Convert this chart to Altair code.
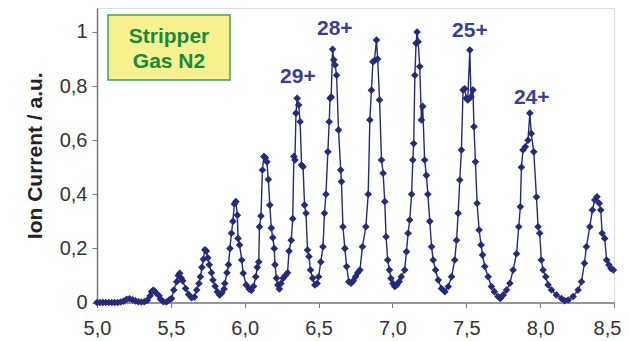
import altair as alt
import pandas as pd

# Measured spectrum (x: field / a.u., y: ion current / a.u.)
xs = [5.00, 5.02, 5.04, 5.06, 5.08, 5.10, 5.12, 5.14, 5.16, 5.18, 5.20, 5.22, 5.24, 5.26, 5.28, 5.30,
      5.32, 5.34, 5.36, 5.37, 5.38, 5.39, 5.40, 5.42, 5.43, 5.45, 5.47, 5.49, 5.505,
      5.52, 5.54, 5.55, 5.56, 5.57, 5.58, 5.60, 5.62, 5.64, 5.66, 5.675, 5.69, 5.70, 5.71, 5.72, 5.73,
      5.74, 5.75, 5.76, 5.775, 5.785, 5.80, 5.815, 5.83, 5.845, 5.86,
      5.865, 5.88, 5.89, 5.90, 5.91, 5.92, 5.93, 5.94, 5.95, 5.955, 5.965, 5.98, 5.99, 6.01, 6.03, 6.045,
      6.06, 6.075, 6.085, 6.095, 6.10, 6.11, 6.12, 6.13, 6.14, 6.15, 6.16, 6.17, 6.18, 6.19, 6.20, 6.205,
      6.215, 6.225, 6.235, 6.245, 6.26, 6.275, 6.29, 6.30, 6.315, 6.325, 6.333, 6.34, 6.347, 6.355, 6.365,
      6.375, 6.385, 6.395, 6.405, 6.415, 6.425, 6.435, 6.445, 6.46, 6.475, 6.49, 6.50, 6.515, 6.53, 6.54,
      6.55, 6.563, 6.572, 6.578, 6.585, 6.595, 6.603, 6.612, 6.622, 6.635, 6.65, 6.655, 6.665, 6.678, 6.69,
      6.705, 6.72, 6.735, 6.75, 6.765, 6.78, 6.797, 6.82, 6.836, 6.847, 6.858, 6.868, 6.878, 6.892, 6.90,
      6.913, 6.926, 6.937, 6.948, 6.957, 6.968, 6.98, 6.99, 7.003, 7.016, 7.03, 7.045, 7.06, 7.083, 7.095,
      7.106, 7.117, 7.13, 7.138, 7.144, 7.152, 7.16, 7.167, 7.174, 7.185, 7.196, 7.205, 7.218, 7.23, 7.24,
      7.253, 7.265, 7.276, 7.292, 7.31, 7.332, 7.355, 7.378, 7.40, 7.422, 7.434, 7.445, 7.456, 7.467, 7.478,
      7.49, 7.50, 7.51, 7.524, 7.532, 7.545, 7.552, 7.562, 7.573, 7.587, 7.60, 7.61, 7.625, 7.648, 7.67,
      7.69, 7.715, 7.73, 7.75, 7.772, 7.795, 7.817, 7.84, 7.855, 7.866, 7.873, 7.884, 7.90, 7.918, 7.93,
      7.94, 7.957, 7.975, 7.986, 7.997, 8.008, 8.02, 8.038, 8.054, 8.077, 8.11, 8.144, 8.166, 8.19, 8.223,
      8.257, 8.28, 8.30, 8.313, 8.336, 8.354, 8.37, 8.385, 8.40, 8.41, 8.42, 8.437, 8.45, 8.466, 8.48, 8.496]

ys = [0.0, 0.0, 0.0, 0.0, 0.0, 0.0, 0.0, 0.0, 0.002, 0.005, 0.012, 0.014, 0.010, 0.006, 0.003, 0.002,
      0.003, 0.008, 0.025, 0.040, 0.045, 0.042, 0.035, 0.025, 0.012, 0.003, 0.002, 0.010, 0.015,
      0.046, 0.077, 0.100, 0.108, 0.090, 0.080, 0.052, 0.030, 0.018, 0.020, 0.046, 0.070, 0.095, 0.130, 0.160, 0.195,
      0.190, 0.165, 0.140, 0.110, 0.083, 0.060, 0.040, 0.028, 0.035, 0.050,
      0.070, 0.110, 0.140, 0.200, 0.256, 0.300, 0.364, 0.373, 0.323, 0.237, 0.213, 0.157, 0.108, 0.065, 0.050, 0.045,
      0.060, 0.095, 0.130, 0.150, 0.280, 0.320, 0.490, 0.540, 0.535, 0.520, 0.455, 0.360, 0.275, 0.240, 0.200, 0.140,
      0.090, 0.065, 0.050, 0.070, 0.090, 0.100, 0.110, 0.190, 0.230, 0.310, 0.540, 0.527, 0.700, 0.755, 0.730,
      0.668, 0.508, 0.502, 0.360, 0.330, 0.194, 0.170, 0.120, 0.090, 0.065, 0.070, 0.095, 0.150, 0.206, 0.330,
      0.400, 0.557, 0.668, 0.755, 0.760, 0.936, 0.897, 0.878, 0.840, 0.638, 0.490, 0.447, 0.280, 0.200, 0.133,
      0.077, 0.071, 0.080, 0.095, 0.110, 0.120, 0.206, 0.280, 0.400, 0.675, 0.785, 0.890, 0.894, 0.970, 0.900,
      0.749, 0.527, 0.478, 0.373, 0.243, 0.157, 0.120, 0.089, 0.070, 0.059, 0.065, 0.077, 0.095, 0.120, 0.188,
      0.256, 0.305, 0.400, 0.527, 0.588, 0.840, 0.958, 1.000, 0.964, 0.872, 0.675, 0.725, 0.527, 0.470, 0.400,
      0.300, 0.206, 0.157, 0.120, 0.083, 0.052, 0.040, 0.059, 0.095, 0.157, 0.230, 0.330, 0.453, 0.564, 0.786,
      0.790, 0.755, 0.749, 0.933, 0.760, 0.786, 0.650, 0.520, 0.367, 0.268, 0.213, 0.176, 0.133, 0.095, 0.059,
      0.040, 0.022, 0.015, 0.028, 0.046, 0.071, 0.120, 0.180, 0.280, 0.354, 0.500, 0.564, 0.576, 0.600, 0.700,
      0.625, 0.557, 0.390, 0.280, 0.256, 0.157, 0.120, 0.095, 0.065, 0.046, 0.028, 0.015, 0.007, 0.009, 0.022,
      0.046, 0.077, 0.145, 0.206, 0.280, 0.342, 0.379, 0.391, 0.367, 0.342, 0.256, 0.237, 0.157, 0.139, 0.126, 0.120]

peak_labels = ["29+", "28+", "25+", "24+"]
peak_x = [6.36, 6.61, 7.524, 7.943]
peak_y = [0.811, 0.989, 0.981, 0.734]

box_lines = ["Stripper", "Gas N2"]

x_ticks = [5.0, 5.5, 6.0, 6.5, 7.0, 7.5, 8.0, 8.5]
y_ticks = [0, 0.2, 0.4, 0.6, 0.8, 1.0]

df = pd.DataFrame({"x": xs, "y": ys})
ann = pd.DataFrame({"label": peak_labels, "x": peak_x, "y": peak_y})

FONT = "Liberation Sans"
LINE = "#262a78"

xscale = alt.Scale(domain=[5.0, 8.5], nice=False, zero=False)
yscale = alt.Scale(domain=[0, 1.0887], nice=False)

xaxis = alt.Axis(values=x_ticks, labelExpr="replace(format(datum.value, '.1f'), '.', ',')",
                 title=None, grid=False, tickSize=5, labelPadding=11, labelFontSize=20,
                 labelFlush=False, labelOverlap=False,
                 labelOffset={"condition": {"test": "datum.value >= 8.49", "value": -7}, "value": 0},
                 labelFont=FONT, labelColor="#333333", domainColor="#7a7a7a", tickColor="#7a7a7a",
                 domainWidth=1.5)
yaxis = alt.Axis(values=y_ticks, labelExpr="replace(format(datum.value, '~g'), '.', ',')",
                 title="Ion Current / a.u.", grid=False, tickSize=5, labelPadding=5, labelFontSize=20,
                 labelFlush=False, labelOverlap=False,
                 labelFont=FONT, labelColor="#333333", domainColor="#7a7a7a", tickColor="#7a7a7a",
                 domainWidth=1.5, titleFont=FONT, titleFontSize=21, titleFontWeight="bold",
                 titleColor="#222222", titlePadding=14)

line = alt.Chart(df).mark_line(
    color=LINE, strokeWidth=1.4,
    point=alt.OverlayMarkDef(shape="diamond", size=58, filled=True, color=LINE)
).encode(
    x=alt.X("x:Q", scale=xscale, axis=xaxis),
    y=alt.Y("y:Q", scale=yscale, axis=yaxis),
)

labels = alt.Chart(ann).mark_text(
    font=FONT, fontSize=21, fontWeight="bold", color="#3a3d9c", baseline="alphabetic", align="center"
).encode(
    x=alt.X("x:Q", scale=xscale),
    y=alt.Y("y:Q", scale=yscale),
    text="label:N",
)

box = alt.Chart(pd.DataFrame({"t": [0]})).mark_rect(
    fill="#f7f18f", stroke="#3aa655", strokeWidth=1.5
).encode(
    x=alt.value(11), x2=alt.value(133), y=alt.value(7), y2=alt.value(72)
)

box_text1 = alt.Chart(pd.DataFrame({"t": [box_lines[0]]})).mark_text(
    font=FONT, fontSize=21, fontWeight="bold", color="#188a3e", align="center", baseline="alphabetic"
).encode(x=alt.value(72), y=alt.value(35), text="t:N")
box_text2 = alt.Chart(pd.DataFrame({"t": [box_lines[1]]})).mark_text(
    font=FONT, fontSize=21, fontWeight="bold", color="#188a3e", align="center", baseline="alphabetic"
).encode(x=alt.value(72), y=alt.value(60), text="t:N")

chart = alt.layer(line, labels, box, box_text1, box_text2).properties(
    width=517, height=294.5,
    autosize=alt.AutoSizeParams(type="none"),
    padding={"left": 89, "top": 0, "right": 8, "bottom": 36},
).configure_view(
    stroke="#7a7a7a", strokeWidth=1.5
).configure(background="white")

chart.save("out.html", embed_options={"renderer": "svg", "actions": False})
